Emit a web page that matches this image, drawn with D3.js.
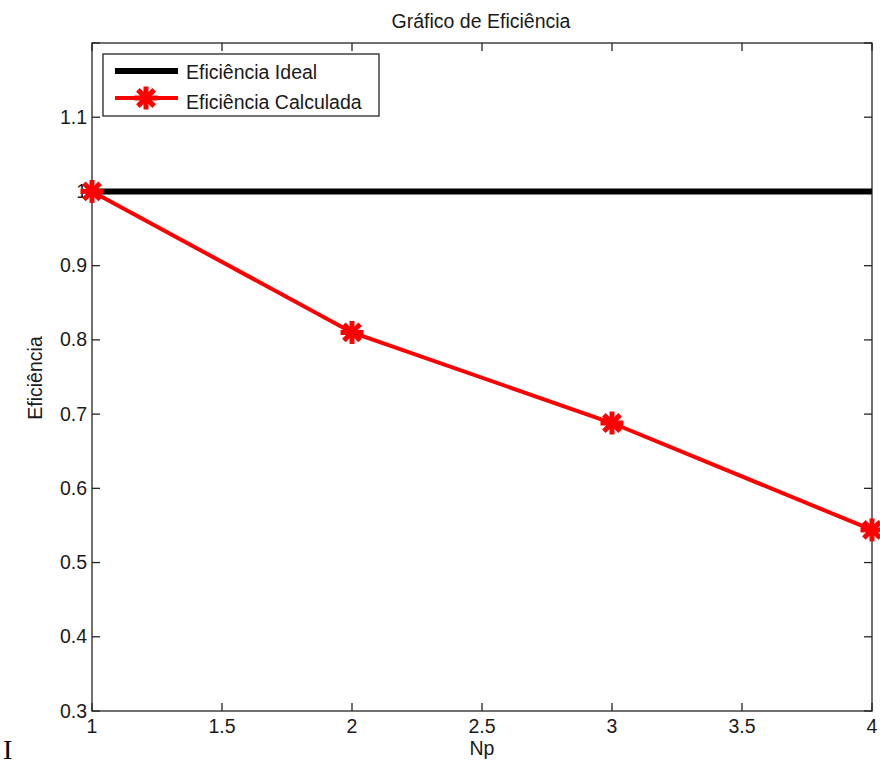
<!DOCTYPE html>
<html>
<head>
<meta charset="utf-8">
<script src="https://cdn.jsdelivr.net/npm/d3@7"></script>
<style>
html,body{margin:0;padding:0;background:#fff;}
svg{display:block;font-family:"Liberation Sans",Arial,sans-serif;}
</style>
</head>
<body>
<svg id="chart" width="880" height="768"></svg>
<script>
const npValues = [1, 2, 3, 4];
const idealValues = [1, 1, 1, 1];
const calcValues = [1.0, 0.81, 0.688, 0.544];
const xTicks = [1, 1.5, 2, 2.5, 3, 3.5, 4];
const yTicks = [0.3, 0.4, 0.5, 0.6, 0.7, 0.8, 0.9, 1, 1.1, 1.2];
const seriesNames = ["Eficiência Ideal", "Eficiência Calculada"];
const titleText = "Gráfico de Eficiência";
const xLabel = "Np";
const yLabel = "Eficiência";

const svg = d3.select("#chart");
const L = 92, R = 872, T = 43, B = 711;
const x = d3.scaleLinear().domain([1, 4]).range([L, R]);
const y = d3.scaleLinear().domain([0.3, 1.2]).range([B, T]);
const axisColor = "#262626";
const txtColor = "#1a1a1a";
const fs = 19.5;

// box
svg.append("rect").attr("x", L).attr("y", T).attr("width", R - L).attr("height", B - T)
  .attr("fill", "none").attr("stroke", axisColor).attr("stroke-width", 1.3);

// ticks (inward, mirrored)
const tk = 8;
const tg = svg.append("g").attr("stroke", axisColor).attr("stroke-width", 1.3);
xTicks.forEach(v => {
  tg.append("line").attr("x1", x(v)).attr("x2", x(v)).attr("y1", B).attr("y2", B - tk);
  tg.append("line").attr("x1", x(v)).attr("x2", x(v)).attr("y1", T).attr("y2", T + tk);
});
yTicks.forEach(v => {
  tg.append("line").attr("x1", L).attr("x2", L + tk).attr("y1", y(v)).attr("y2", y(v));
  tg.append("line").attr("x1", R).attr("x2", R - tk).attr("y1", y(v)).attr("y2", y(v));
});

// tick labels
svg.append("g").selectAll("text").data(xTicks).join("text")
  .attr("x", d => x(d)).attr("y", B + 22).attr("text-anchor", "middle")
  .attr("font-size", fs).attr("fill", txtColor).text(d => d3.format("")(d));
svg.append("g").selectAll("text").data(yTicks.filter(v => v < 1.15)).join("text")
  .attr("x", L - 5).attr("y", d => y(d) + 6.5).attr("text-anchor", "end")
  .attr("font-size", fs).attr("fill", txtColor).text(d => d3.format("")(d));

// title & labels
svg.append("text").attr("x", 481).attr("y", 28).attr("text-anchor", "middle")
  .attr("font-size", fs).attr("fill", txtColor).text(titleText);
svg.append("text").attr("x", (L + R) / 2).attr("y", 755).attr("text-anchor", "middle")
  .attr("font-size", fs).attr("fill", txtColor).text(xLabel);
svg.append("text").attr("transform", `translate(42,378) rotate(-90)`)
  .attr("text-anchor", "middle").attr("font-size", fs).attr("fill", txtColor).text(yLabel);

// stray serif I
svg.append("text").attr("x", 3).attr("y", 759).attr("font-family", "Liberation Serif, serif")
  .attr("font-size", 28).attr("fill", "#000").text("I");

// lines
const line = d3.line().x((d, i) => x(npValues[i])).y(d => y(d));
svg.append("path").datum(idealValues).attr("d", line).attr("fill", "none")
  .attr("stroke", "#000").attr("stroke-width", 6);
svg.append("path").datum(calcValues).attr("d", line).attr("fill", "none")
  .attr("stroke", "#ff0000").attr("stroke-width", 4);

function star(g, cx, cy, r) {
  const s = g.append("g").attr("stroke", "#ff0000").attr("stroke-width", 5).attr("stroke-linecap", "butt");
  [0, 45, 90, 135].forEach(a => {
    const rad = a * Math.PI / 180;
    s.append("line").attr("x1", cx - r * Math.cos(rad)).attr("y1", cy - r * Math.sin(rad))
      .attr("x2", cx + r * Math.cos(rad)).attr("y2", cy + r * Math.sin(rad));
  });
}
const mg = svg.append("g");
calcValues.forEach((v, i) => star(mg, x(npValues[i]), y(v), 11.5));

// legend
const lg = svg.append("g");
lg.append("rect").attr("x", 103).attr("y", 54).attr("width", 276).attr("height", 62)
  .attr("fill", "#fff").attr("stroke", axisColor).attr("stroke-width", 1.3);
lg.append("line").attr("x1", 115).attr("x2", 178).attr("y1", 71).attr("y2", 71)
  .attr("stroke", "#000").attr("stroke-width", 6);
lg.append("line").attr("x1", 115).attr("x2", 178).attr("y1", 98).attr("y2", 98)
  .attr("stroke", "#ff0000").attr("stroke-width", 4);
star(lg, 146, 98, 11.5);
lg.append("text").attr("x", 186).attr("y", 79).attr("font-size", fs)
  .attr("fill", txtColor).text(seriesNames[0]);
lg.append("text").attr("x", 186).attr("y", 109).attr("font-size", fs)
  .attr("fill", txtColor).text(seriesNames[1]);
</script>
</body>
</html>
